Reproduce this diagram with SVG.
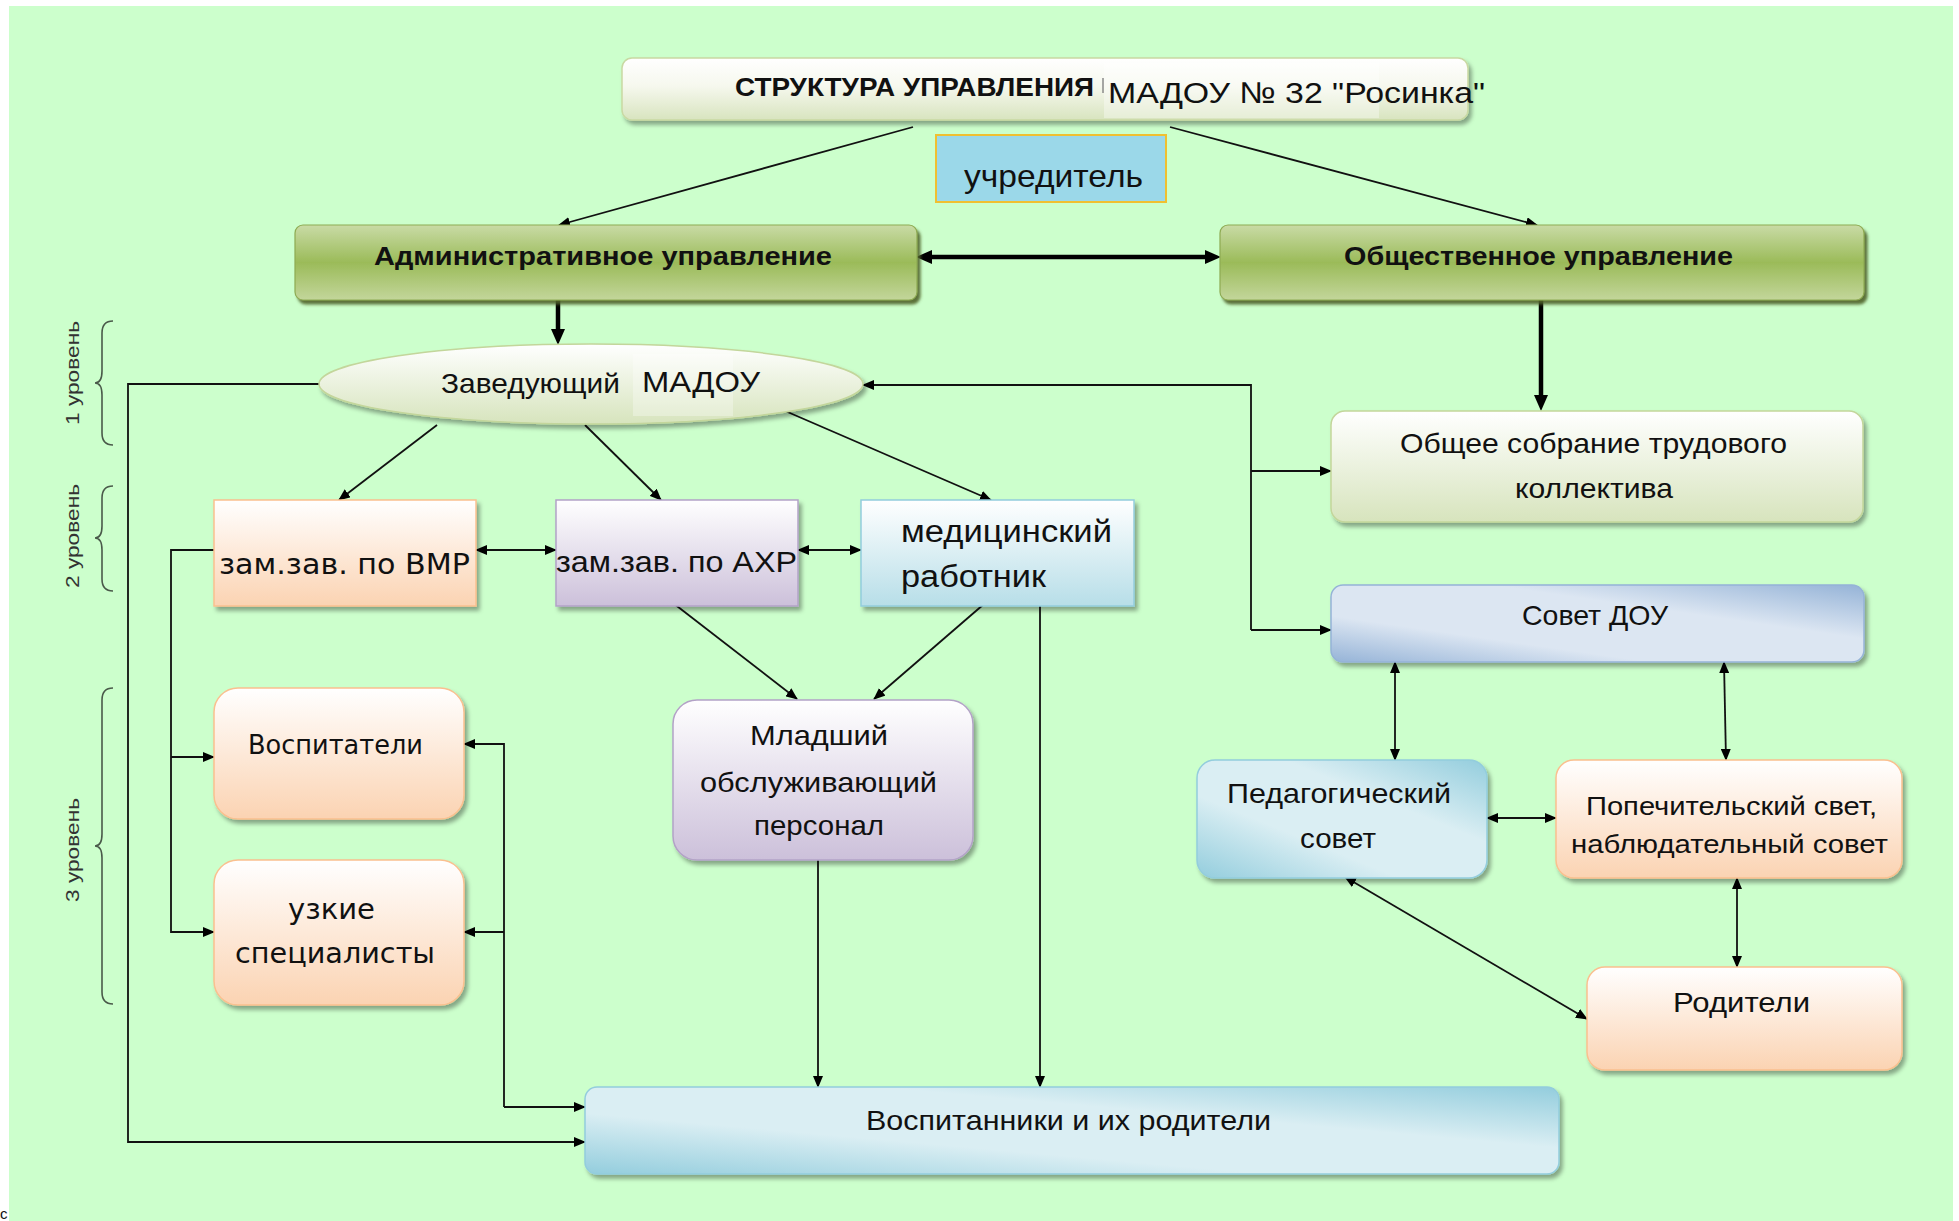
<svg xmlns="http://www.w3.org/2000/svg" width="1959" height="1221" viewBox="0 0 1959 1221">
<style>
.t{font-family:"Liberation Sans",Arial,sans-serif;fill:#111;}
.b{font-weight:bold;}
.v{font-family:"DejaVu Sans",Verdana,sans-serif;fill:#111;}
.lv{font-family:"Liberation Sans",Arial,sans-serif;fill:#333;font-size:18px;}
.c{fill:none;stroke:#111;stroke-width:1.8;}
.ck{fill:none;stroke:#000;stroke-width:4.5;}
.br{fill:none;stroke:#4a5a4a;stroke-width:1.6;}
</style>
<defs>
<marker id="a" viewBox="0 0 12 10" refX="11" refY="5" markerWidth="12" markerHeight="10" markerUnits="userSpaceOnUse" orient="auto-start-reverse"><path d="M0,0 L12,5 L0,10 z" fill="#000"/></marker>
<marker id="ak" viewBox="0 0 16 14" refX="9" refY="7" markerWidth="16" markerHeight="14" markerUnits="userSpaceOnUse" orient="auto-start-reverse"><path d="M0,0 L16,7 L0,14 z" fill="#000"/></marker>
<filter id="sh" x="-5%" y="-10%" width="115%" height="135%"><feDropShadow dx="3" dy="4" stdDeviation="2" flood-color="#000" flood-opacity="0.35"/></filter>
<filter id="shg" x="-5%" y="-10%" width="115%" height="135%"><feDropShadow dx="3" dy="4" stdDeviation="1.5" flood-color="#4f6228" flood-opacity="0.9"/></filter>
<linearGradient id="gTitle" x1="0" y1="0" x2="0" y2="1"><stop offset="0" stop-color="#ffffff"/><stop offset="0.45" stop-color="#f6f8ee"/><stop offset="1" stop-color="#d8e4bf"/></linearGradient>
<linearGradient id="gGreen" x1="0" y1="0" x2="0" y2="1"><stop offset="0" stop-color="#c9dba6"/><stop offset="0.5" stop-color="#9bbb59"/><stop offset="1" stop-color="#c3d69b"/></linearGradient>
<linearGradient id="gOlive" x1="0" y1="0" x2="0" y2="1"><stop offset="0" stop-color="#ffffff"/><stop offset="1" stop-color="#d7e4bd"/></linearGradient>
<linearGradient id="gPeach" x1="0" y1="0" x2="0" y2="1"><stop offset="0" stop-color="#ffffff"/><stop offset="1" stop-color="#fbd3b2"/></linearGradient>
<linearGradient id="gLav" x1="0" y1="0" x2="0" y2="1"><stop offset="0" stop-color="#ffffff"/><stop offset="1" stop-color="#ccc0da"/></linearGradient>
<linearGradient id="gMed" x1="0" y1="0" x2="0" y2="1"><stop offset="0" stop-color="#ffffff"/><stop offset="1" stop-color="#b7dee8"/></linearGradient>
<linearGradient id="gBlue" x1="0" y1="1" x2="1" y2="0"><stop offset="0" stop-color="#95b3d7"/><stop offset="0.3" stop-color="#dce6f2"/><stop offset="0.65" stop-color="#dce6f2"/><stop offset="1" stop-color="#95b3d7"/></linearGradient>
<linearGradient id="gAqua" x1="0" y1="1" x2="1" y2="0"><stop offset="0" stop-color="#93cddd"/><stop offset="0.35" stop-color="#daeef3"/><stop offset="0.65" stop-color="#daeef3"/><stop offset="1" stop-color="#93cddd"/></linearGradient>
</defs>

<rect x="9" y="6" width="1944" height="1215" fill="#ccffcc"/>
<text class="t" x="0" y="1219" font-size="15">с</text>

<g id="levels">
<path class="br" d="M113,321 Q102,321 102,333 L102,371 Q102,383 95,383 Q102,383 102,395 L102,433 Q102,445 113,445"/>
<text class="lv" transform="translate(79,425) rotate(-90)" textLength="104" lengthAdjust="spacingAndGlyphs">1 уровень</text>
<path class="br" d="M113,486 Q102,486 102,498 L102,526 Q102,538 95,538 Q102,538 102,550 L102,579 Q102,591 113,591"/>
<text class="lv" transform="translate(79,588) rotate(-90)" textLength="104" lengthAdjust="spacingAndGlyphs">2 уровень</text>
<path class="br" d="M113,688 Q102,688 102,700 L102,834 Q102,846 95,846 Q102,846 102,858 L102,992 Q102,1004 113,1004"/>
<text class="lv" transform="translate(79,902) rotate(-90)" textLength="104" lengthAdjust="spacingAndGlyphs">3 уровень</text>
</g>

<g id="connectors">
<line class="c" x1="913" y1="127" x2="559" y2="225" marker-end="url(#a)"/>
<line class="c" x1="1170" y1="127" x2="1537" y2="225" marker-end="url(#a)"/>
<line class="ck" x1="923" y1="257" x2="1214" y2="257" marker-start="url(#ak)" marker-end="url(#ak)"/>
<line class="ck" x1="558" y1="284" x2="558" y2="338" marker-end="url(#ak)"/>
<line class="ck" x1="1541" y1="284" x2="1541" y2="404" marker-end="url(#ak)"/>
<path class="c" d="M320,384 L128,384 L128,1142 L585,1142" marker-end="url(#a)"/>
<path class="c" d="M1251,630 L1251,385 L863,385" marker-end="url(#a)"/>
<line class="c" x1="1251" y1="471" x2="1331" y2="471" marker-end="url(#a)"/>
<line class="c" x1="1251" y1="630" x2="1331" y2="630" marker-end="url(#a)"/>
<line class="c" x1="437" y1="425" x2="339" y2="500" marker-end="url(#a)"/>
<line class="c" x1="585" y1="425" x2="661" y2="500" marker-end="url(#a)"/>
<line class="c" x1="783" y1="410" x2="991" y2="500" marker-end="url(#a)"/>
<line class="c" x1="476" y1="550" x2="556" y2="550" marker-start="url(#a)" marker-end="url(#a)"/>
<line class="c" x1="798" y1="550" x2="861" y2="550" marker-start="url(#a)" marker-end="url(#a)"/>
<line class="c" x1="673" y1="603" x2="797" y2="699" marker-end="url(#a)"/>
<line class="c" x1="984" y1="604" x2="874" y2="699" marker-end="url(#a)"/>
<line class="c" x1="818" y1="860" x2="818" y2="1087" marker-end="url(#a)"/>
<line class="c" x1="1040" y1="606" x2="1040" y2="1087" marker-end="url(#a)"/>
<path class="c" d="M214,550 L171,550 L171,932 L214,932" marker-end="url(#a)"/>
<line class="c" x1="171" y1="757" x2="214" y2="757" marker-end="url(#a)"/>
<path class="c" d="M504,1107 L504,744 L464,744" marker-end="url(#a)"/>
<line class="c" x1="504" y1="932" x2="464" y2="932" marker-end="url(#a)"/>
<line class="c" x1="504" y1="1107" x2="585" y2="1107" marker-end="url(#a)"/>
<line class="c" x1="1395" y1="662" x2="1395" y2="760" marker-start="url(#a)" marker-end="url(#a)"/>
<line class="c" x1="1724" y1="662" x2="1726" y2="760" marker-start="url(#a)" marker-end="url(#a)"/>
<line class="c" x1="1487" y1="818" x2="1556" y2="818" marker-start="url(#a)" marker-end="url(#a)"/>
<line class="c" x1="1737" y1="878" x2="1737" y2="967" marker-start="url(#a)" marker-end="url(#a)"/>
<line class="c" x1="1345" y1="877" x2="1587" y2="1019" marker-start="url(#a)" marker-end="url(#a)"/>
</g>

<g id="title">
<rect x="622" y="58" width="846" height="62" rx="10" fill="url(#gTitle)" stroke="#c9d9a3" stroke-width="1.5" filter="url(#sh)"/>
<rect x="1104" y="63" width="275" height="55" fill="#ffffff" opacity="0.35"/>
<line x1="1103" y1="78" x2="1103" y2="93" stroke="#8a8a8a" stroke-width="1.5"/>
<text class="t b" x="735" y="96" font-size="25" textLength="359" lengthAdjust="spacingAndGlyphs">СТРУКТУРА УПРАВЛЕНИЯ</text>
<text class="t" x="1108" y="103" font-size="30" textLength="377" lengthAdjust="spacingAndGlyphs">МАДОУ № 32 "Росинка"</text>
</g>

<g id="uchreditel">
<rect x="936" y="135" width="230" height="67" fill="#9bd8e9" stroke="#f0c030" stroke-width="2"/>
<text class="t" x="964" y="187" font-size="32" textLength="179" lengthAdjust="spacingAndGlyphs">учредитель</text>
</g>

<g id="admin">
<rect x="295" y="225" width="622" height="75" rx="8" fill="url(#gGreen)" stroke="#8eab52" stroke-width="1.2" filter="url(#shg)"/>
<text class="t b" x="374" y="265" font-size="26" textLength="458" lengthAdjust="spacingAndGlyphs">Административное управление</text>
</g>

<g id="public">
<rect x="1220" y="225" width="644" height="75" rx="8" fill="url(#gGreen)" stroke="#8eab52" stroke-width="1.2" filter="url(#shg)"/>
<text class="t b" x="1344" y="265" font-size="26" textLength="389" lengthAdjust="spacingAndGlyphs">Общественное управление</text>
</g>

<g id="zaveduyushchiy">
<ellipse cx="591" cy="384" rx="272" ry="40" fill="url(#gOlive)" stroke="#c3d69b" stroke-width="1.5" filter="url(#sh)"/>
<rect x="633" y="354" width="100" height="62" fill="#ffffff" opacity="0.3"/>
<text class="t" x="441" y="393" font-size="28" textLength="179" lengthAdjust="spacingAndGlyphs">Заведующий</text>
<text class="t" x="642" y="392" font-size="30" textLength="118" lengthAdjust="spacingAndGlyphs">МАДОУ</text>
</g>

<g id="obshchee">
<rect x="1331" y="411" width="532" height="111" rx="14" fill="url(#gOlive)" stroke="#c3d69b" stroke-width="1.5" filter="url(#sh)"/>
<text class="t" x="1400" y="453" font-size="28" textLength="387" lengthAdjust="spacingAndGlyphs">Общее собрание трудового</text>
<text class="t" x="1515" y="498" font-size="28" textLength="158" lengthAdjust="spacingAndGlyphs">коллектива</text>
</g>

<g id="sovet">
<rect x="1331" y="585" width="533" height="77" rx="12" fill="url(#gBlue)" stroke="#95b3d7" stroke-width="1.5" filter="url(#sh)"/>
<text class="t" x="1522" y="625" font-size="28" textLength="146" lengthAdjust="spacingAndGlyphs">Совет ДОУ</text>
</g>

<g id="pedsovet">
<rect x="1197" y="760" width="290" height="118" rx="18" fill="url(#gAqua)" stroke="#93cddd" stroke-width="1.5" filter="url(#sh)"/>
<text class="t" x="1227" y="803" font-size="28" textLength="224" lengthAdjust="spacingAndGlyphs">Педагогический</text>
<text class="t" x="1300" y="848" font-size="28" textLength="76" lengthAdjust="spacingAndGlyphs">совет</text>
</g>

<g id="popechitelskiy">
<rect x="1556" y="760" width="346" height="118" rx="18" fill="url(#gPeach)" stroke="#fac08f" stroke-width="1.5" filter="url(#sh)"/>
<text class="t" x="1586" y="815" font-size="26" textLength="291" lengthAdjust="spacingAndGlyphs">Попечительский свет,</text>
<text class="t" x="1571" y="853" font-size="26" textLength="317" lengthAdjust="spacingAndGlyphs">наблюдательный совет</text>
</g>

<g id="roditeli">
<rect x="1587" y="967" width="315" height="103" rx="18" fill="url(#gPeach)" stroke="#fac08f" stroke-width="1.5" filter="url(#sh)"/>
<text class="t" x="1673" y="1012" font-size="28" textLength="137" lengthAdjust="spacingAndGlyphs">Родители</text>
</g>

<g id="zam-vmr">
<rect x="214" y="500" width="262" height="106" fill="url(#gPeach)" stroke="#fac08f" stroke-width="1.5" filter="url(#sh)"/>
<text class="v" x="219" y="574" font-size="28" textLength="251" lengthAdjust="spacingAndGlyphs">зам.зав. по ВМР</text>
</g>

<g id="zam-axr">
<rect x="556" y="500" width="242" height="106" fill="url(#gLav)" stroke="#b3a2c7" stroke-width="1.5" filter="url(#sh)"/>
<text class="t" x="556" y="572" font-size="30" textLength="241" lengthAdjust="spacingAndGlyphs">зам.зав. по АХР</text>
</g>

<g id="med">
<rect x="861" y="500" width="273" height="106" fill="url(#gMed)" stroke="#93cddd" stroke-width="1.5" filter="url(#sh)"/>
<text class="t" x="901" y="542" font-size="31" textLength="211" lengthAdjust="spacingAndGlyphs">медицинский</text>
<text class="t" x="901" y="587" font-size="31" textLength="145" lengthAdjust="spacingAndGlyphs">работник</text>
</g>

<g id="mladshiy">
<rect x="673" y="700" width="300" height="160" rx="24" fill="url(#gLav)" stroke="#b3a2c7" stroke-width="1.5" filter="url(#sh)"/>
<text class="t" x="750" y="745" font-size="28" textLength="138" lengthAdjust="spacingAndGlyphs">Младший</text>
<text class="t" x="700" y="792" font-size="28" textLength="237" lengthAdjust="spacingAndGlyphs">обслуживающий</text>
<text class="t" x="754" y="835" font-size="28" textLength="130" lengthAdjust="spacingAndGlyphs">персонал</text>
</g>

<g id="vospitateli">
<rect x="214" y="688" width="250" height="131" rx="24" fill="url(#gPeach)" stroke="#fac08f" stroke-width="1.5" filter="url(#sh)"/>
<text class="v" x="248" y="754" font-size="26" textLength="175" lengthAdjust="spacingAndGlyphs">Воспитатели</text>
</g>

<g id="uzkie">
<rect x="214" y="860" width="250" height="145" rx="24" fill="url(#gPeach)" stroke="#fac08f" stroke-width="1.5" filter="url(#sh)"/>
<text class="v" x="288" y="919" font-size="29" textLength="87" lengthAdjust="spacingAndGlyphs">узкие</text>
<text class="v" x="235" y="963" font-size="29" textLength="200" lengthAdjust="spacingAndGlyphs">специалисты</text>
</g>

<g id="vospitanniki">
<rect x="585" y="1087" width="974" height="87" rx="12" fill="url(#gAqua)" stroke="#93cddd" stroke-width="1.5" filter="url(#sh)"/>
<text class="t" x="866" y="1130" font-size="28" textLength="405" lengthAdjust="spacingAndGlyphs">Воспитанники и их родители</text>
</g>
</svg>
